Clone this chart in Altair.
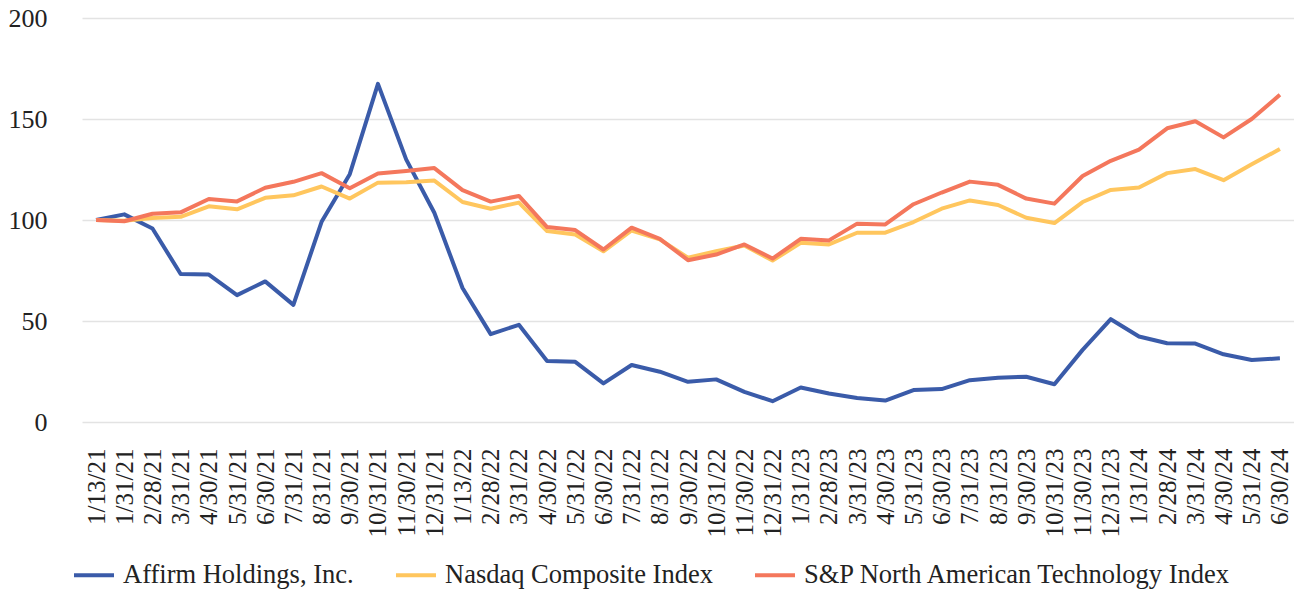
import altair as alt
import pandas as pd

dates = ["1/13/21", "1/31/21", "2/28/21", "3/31/21", "4/30/21", "5/31/21", "6/30/21",
         "7/31/21", "8/31/21", "9/30/21", "10/31/21", "11/30/21", "12/31/21", "1/13/22",
         "2/28/22", "3/31/22", "4/30/22", "5/31/22", "6/30/22", "7/31/22", "8/31/22",
         "9/30/22", "10/31/22", "11/30/22", "12/31/22", "1/31/23", "2/28/23", "3/31/23",
         "4/30/23", "5/31/23", "6/30/23", "7/31/23", "8/31/23", "9/30/23", "10/31/23",
         "11/30/23", "12/31/23", "1/31/24", "2/28/24", "3/31/24", "4/30/24", "5/31/24",
         "6/30/24"]

affirm = [100, 102.8, 95.8, 73.3, 73, 62.8, 69.6, 58, 99.1, 122.7, 167.4, 130, 103.6,
          66.3, 43.5, 48.1, 30.2, 29.8, 19.1, 28.2, 24.9, 19.9, 21.1, 14.9, 10.3, 17.1,
          14.1, 11.9, 10.6, 15.8, 16.3, 20.7, 21.9, 22.4, 18.7, 35.7, 50.9, 42.3, 39,
          38.8, 33.5, 30.7, 31.5]

nasdaq = [100, 99.6, 101, 101.6, 106.8, 105.3, 111, 112.2, 116.6, 110.6, 118.5, 118.7,
          119.5, 108.9, 105.6, 108.6, 94.5, 92.8, 84.5, 94.8, 90.4, 81.3, 84.5, 87.4,
          79.9, 88.7, 87.9, 93.7, 93.7, 99, 105.6, 109.7, 107.4, 101.1, 98.5, 108.9,
          114.9, 116.1, 123.2, 125.2, 119.7, 127.6, 135.1]

sp_tech = [100, 99.4, 103.1, 103.8, 110.4, 109.2, 116, 118.9, 123.2, 115.7, 123, 124.3,
           125.7, 114.8, 109.1, 111.9, 96.5, 95, 85.4, 96.2, 90.7, 80.1, 82.9, 87.9,
           80.9, 90.7, 89.9, 98.2, 97.8, 107.8, 113.6, 119, 117.4, 110.6, 108.1, 121.8,
           129.3, 134.8, 145.4, 148.9, 140.9, 150, 162]

series = ["Affirm Holdings, Inc.", "Nasdaq Composite Index",
          "S&P North American Technology Index"]
colors = ["#3A5BA9", "#FFC65E", "#F4775C"]
y_ticks = [0, 50, 100, 150, 200]

rows = []
for name, vals in zip(series, [affirm, nasdaq, sp_tech]):
    for d, v in zip(dates, vals):
        rows.append({"date": d, "series": name, "value": v})
df = pd.DataFrame(rows)

FONT = "Liberation Serif"

chart = alt.Chart(df).mark_line(strokeWidth=4, strokeJoin="round").encode(
    x=alt.X("date:O", sort=dates,
            scale=alt.Scale(type="point", padding=0.5),
            axis=alt.Axis(title=None, labelAngle=270, labelPadding=26, ticks=False,
                          domain=False, grid=False, labelFontSize=25, labelFont=FONT,
                          labelColor="#222222", labelOverlap=False)),
    y=alt.Y("value:Q", scale=alt.Scale(domain=[0, 200], nice=False),
            axis=alt.Axis(title=None, values=y_ticks, ticks=False, domain=False,
                          labelPadding=35, labelFontSize=26, labelFont=FONT,
                          labelColor="#222222", gridColor="#E3E3E3", gridWidth=1.5)),
    color=alt.Color("series:N", scale=alt.Scale(domain=series, range=colors),
                    legend=alt.Legend(title=None, orient="none", legendX=-10, legendY=535,
                                      direction="horizontal", symbolType="stroke",
                                      symbolSize=1600, symbolStrokeWidth=4,
                                      labelFontSize=26.5, labelFont=FONT, labelLimit=0,
                                      labelColor="#222222", columnPadding=34,
                                      labelOffset=7, padding=0)),
).properties(
    width=1212, height=404,
    padding={"left": 74, "top": 10, "right": 0, "bottom": 167},
    autosize="none",
).configure_view(stroke=None)

chart.save("out.html", embed_options={"renderer": "svg", "actions": False})
